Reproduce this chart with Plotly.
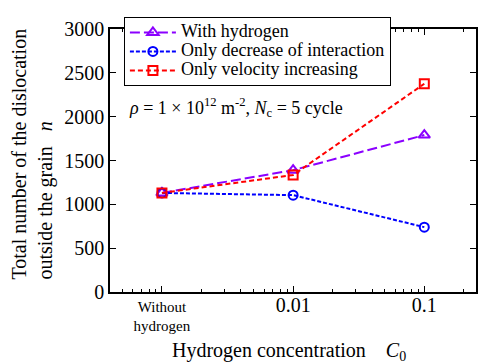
import plotly.graph_objects as go

# Hydrogen concentration positions on the log axis ("Without hydrogen" sits one decade below 0.01)
c0_pos = [0.001, 0.01, 0.1]
c0_labels = ["Without<br>hydrogen",
             '<span style="font-size:20px">0.01</span>',
             '<span style="font-size:20px">0.1</span>']

# Number of dislocations outside the grain
n_with_hydrogen = [1130, 1390, 1790]
n_decrease_interaction = [1130, 1105, 740]
n_velocity_increasing = [1130, 1335, 2375]

series_names = ["With hydrogen", "Only decrease of interaction", "Only velocity increasing"]

y_ticks = [0, 500, 1000, 1500, 2000, 2500, 3000]

FONT = "Liberation Serif"
PURPLE = "#8B00FF"
BLUE = "#0000FF"
RED = "#FF0000"


def legend_label(name):
    # larger text inside a compact legend row
    return f'<span style="font-size:18px">{name}</span>'


fig = go.Figure()

fig.add_trace(go.Scatter(
    x=c0_pos, y=n_with_hydrogen, name=legend_label(series_names[0]), mode="lines+markers",
    line=dict(color=PURPLE, width=2, dash="10px,4px"),
    marker=dict(symbol="triangle-up-open", size=10, color=PURPLE, line=dict(width=2, color=PURPLE)),
))
fig.add_trace(go.Scatter(
    x=c0_pos, y=n_decrease_interaction, name=legend_label(series_names[1]), mode="lines+markers",
    line=dict(color=BLUE, width=2, dash="4px,2px"),
    marker=dict(symbol="circle-open", size=9, color=BLUE, line=dict(width=2, color=BLUE)),
))
fig.add_trace(go.Scatter(
    x=c0_pos, y=n_velocity_increasing, name=legend_label(series_names[2]), mode="lines+markers",
    line=dict(color=RED, width=2, dash="5px,3px"),
    marker=dict(symbol="square-open", size=9, color=RED, line=dict(width=2, color=RED)),
))

# log minor tick positions (2..9 within each decade)
minor_vals = [m * 10.0 ** e for e in range(-4, 0) for m in range(2, 10)]

fig.update_layout(
    width=479, height=362,
    margin=dict(l=110, r=1, t=29, b=70),
    paper_bgcolor="white", plot_bgcolor="white",
    font=dict(family=FONT, size=18, color="black"),
    showlegend=True,
    legend=dict(
        x=0.038, y=1.046, xanchor="left", yanchor="top",
        bgcolor="white", bordercolor="black", borderwidth=1,
        font=dict(family=FONT, size=12, color="black"),
        itemwidth=46, tracegroupgap=0,
    ),
    xaxis=dict(
        type="log", range=[-3.396, -0.606],
        tickmode="array", tickvals=c0_pos, ticktext=c0_labels,
        ticks="inside", ticklen=6, tickwidth=1, tickcolor="black",
        minor=dict(tickmode="array", tickvals=minor_vals, ticks="inside", ticklen=3,
                   tickwidth=1, tickcolor="black", showgrid=False),
        showline=True, linecolor="black", linewidth=1.5, mirror="ticks",
        showgrid=False, zeroline=False,
        tickfont=dict(family=FONT, size=15, color="black"),
    ),
    yaxis=dict(
        range=[0, 3000], tickvals=y_ticks,
        ticks="inside", ticklen=6, tickwidth=1, tickcolor="black",
        showline=True, linecolor="black", linewidth=1.5, mirror="ticks",
        showgrid=False, zeroline=False,
        tickfont=dict(family=FONT, size=20, color="black"),
    ),
)

# y-axis title, two left-aligned lines
fig.add_annotation(
    text="Total number of the dislocation<br>outside the grain\u00a0\u00a0\u00a0<i>n</i>",
    xref="paper", yref="paper", x=-0.212, y=0.524,
    xanchor="center", yanchor="middle", textangle=-90, align="left",
    showarrow=False, font=dict(family=FONT, size=20, color="black"),
)

# x-axis title
fig.add_annotation(
    text="Hydrogen concentration\u00a0\u00a0\u00a0\u00a0<i>C</i><sub>0</sub>",
    xref="paper", yref="paper", x=0.49, y=-0.226,
    xanchor="center", yanchor="middle",
    showarrow=False, font=dict(family=FONT, size=20, color="black"),
)

# condition label
fig.add_annotation(
    text="<i>ρ</i> = 1 × 10<sup>12</sup> m<sup>-2</sup>, <i>N</i><sub>c</sub> = 5 cycle",
    xref="paper", yref="paper", x=0.047, y=0.70,
    xanchor="left", yanchor="middle",
    showarrow=False, font=dict(family=FONT, size=18, color="black"),
)

fig.write_html("out.html")
